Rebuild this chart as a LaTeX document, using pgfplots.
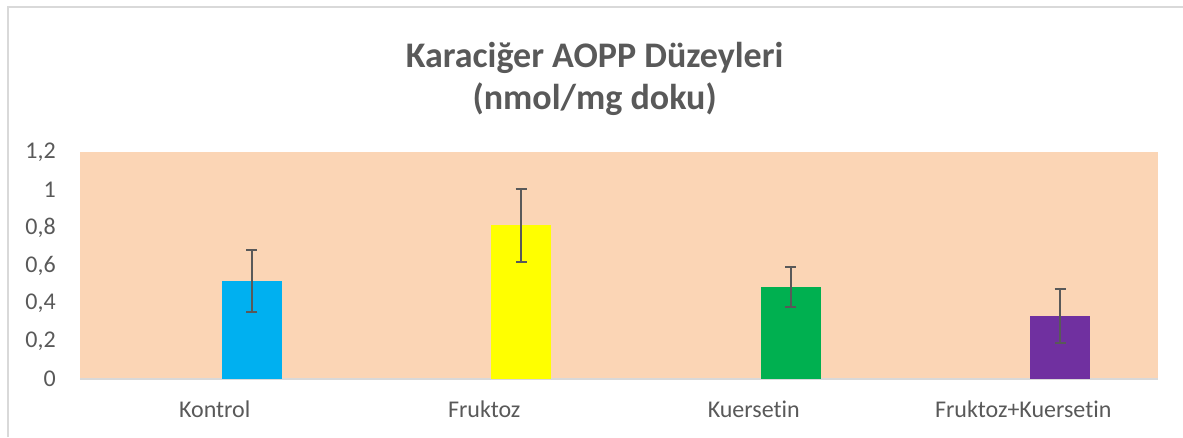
\documentclass[border=0pt]{standalone}
\usepackage{pgfplots}
\pgfplotsset{compat=1.18}
\usepackage{fontspec}
\setmainfont{Carlito}[Ligatures=CommonOff]
\definecolor{txtgray}{HTML}{595959}
\definecolor{peach}{HTML}{FBD5B5}
\definecolor{cblue}{HTML}{00B0F0}
\definecolor{cyellow}{HTML}{FFFF00}
\definecolor{cgreen}{HTML}{00B050}
\definecolor{cpurple}{HTML}{7030A0}
\pgfplotsset{
  errbar/.style={
    ybar, bar width=45pt, draw=none,
    error bars/y dir=both, error bars/y explicit,
    error bars/error bar style={color=txtgray, line width=1.5pt},
    error bars/error mark options={color=txtgray, line width=1.5pt, mark size=4.2pt, rotate=90}},
}
\begin{document}
\begin{tikzpicture}
\useasboundingbox (-60pt,-43.5pt) rectangle (827.25pt,284.25pt);
\draw[color=black!15, line width=1.2pt] (-54pt,-43.5pt) -- (-54pt,279pt) -- (827.25pt,279pt);
\node[font=\fontsize{27}{32}\selectfont\bfseries, text=txtgray, align=center] at (386pt,225pt)
  {Karaciğer AOPP Düzeyleri\\(nmol/mg doku)};
\begin{axis}[
  at={(0pt,0pt)}, anchor=south west,
  scale only axis,
  width=808.5pt, height=170.25pt,
  xmin=-0.5, xmax=3.5,
  ymin=0, ymax=1.2,
  xtick={0,1,2,3},
  xticklabels={Kontrol, Fruktoz, Kuersetin, Fruktoz+Kuersetin},
  ytick={0,0.2,0.4,0.6,0.8,1,1.2},
  /pgf/number format/fixed,
  /pgf/number format/precision=1,
  /pgf/number format/use comma,
  /pgf/number format/assume math mode=true,
  tick label style={font=\fontsize{18}{20}\selectfont, text=txtgray},
  y tick label style={inner sep=0pt, xshift=-18pt},
  x tick label style={inner sep=0pt, yshift=-16pt},
  major tick length=0pt,
  axis x line*=bottom, axis y line*=left,
  x axis line style={draw=black!15, line width=1.2pt, -},
  y axis line style={draw=none},
  axis background/.style={fill=peach},
  clip=false,
]
% bars sit right of the category centre, as in the original
\addplot[errbar, fill=cblue]   coordinates {(0.137,0.518) +- (0,0.164)};
\addplot[errbar, fill=cyellow] coordinates {(1.137,0.814) +- (0,0.193)};
\addplot[errbar, fill=cgreen]  coordinates {(2.137,0.486) +- (0,0.108)};
\addplot[errbar, fill=cpurple] coordinates {(3.137,0.333) +- (0,0.143)};
\end{axis}
\end{tikzpicture}
\end{document}
